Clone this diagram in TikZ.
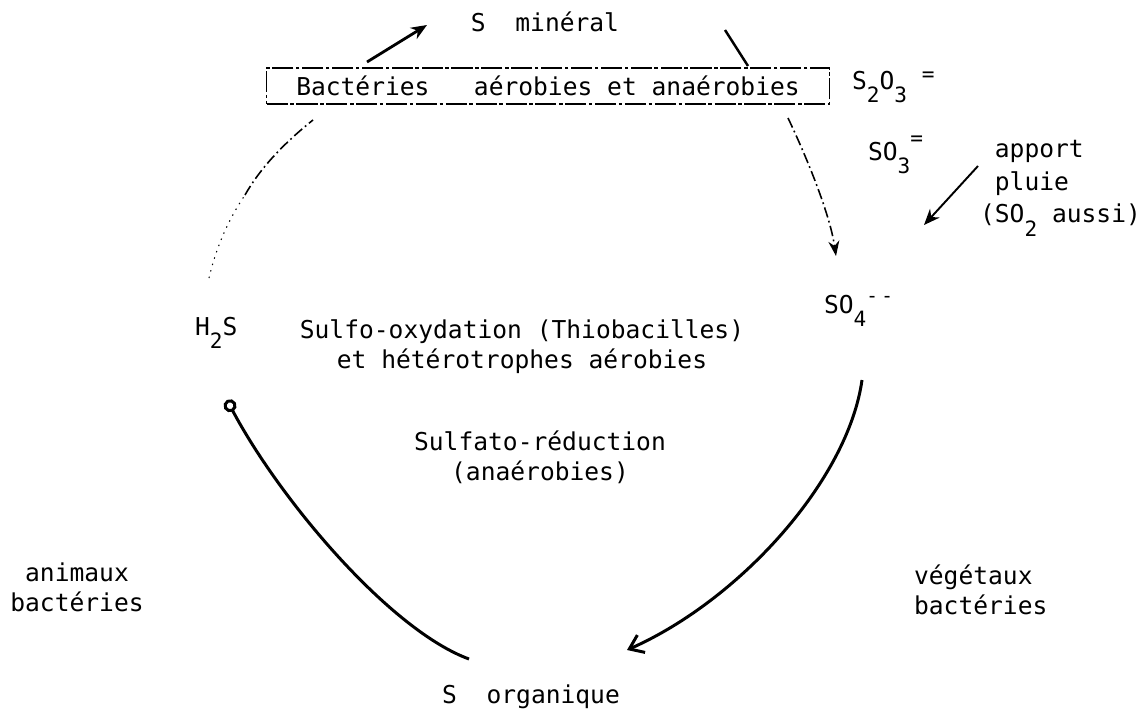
\documentclass[tikz,border=0pt]{standalone}
\usepackage{fontspec}
\setmainfont{DejaVu Sans Mono}
\usetikzlibrary{arrows.meta,positioning}
\newcommand{\lowr}[1]{\raisebox{-0.55em}{\fontsize{12}{12}\selectfont #1}}
\newcommand{\highr}[2][0.4em]{\raisebox{#1}{\fontsize{12}{12}\selectfont #2}}
\tikzset{
  txt/.style={font=\fontsize{14}{17}\selectfont,inner sep=1pt,align=center},
  ar/.style={-{Stealth[length=3.2mm,width=2.6mm]},line width=1.6pt},
  barb/.style={-{Straight Barb[length=2.6mm,width=3.8mm]},line width=1.7pt},
  cyc/.style={line width=1.7pt},
  dd/.style={line width=0.9pt,dash pattern=on 6pt off 2pt on 1pt off 2pt},
  dots/.style={line width=0.6pt,dash pattern=on 0.8pt off 3pt},
  boxd/.style={draw,line width=0.8pt,dash pattern=on 12pt off 1.5pt on 2pt off 1.5pt}
}

\begin{document}
\begin{tikzpicture}[x=0.02cm,y=-0.02cm]
\useasboundingbox (0,0) rectangle (1148,713);
% compounds
\node[txt] (smin) at (545,22) {S\ \ minéral};
\node[txt,boxd,minimum width=11.26cm,minimum height=0.72cm] (bact) at (548,86)
  {Bactéries\ \ \ aérobies et anaérobies};
\node[txt,anchor=west] (thio) at (850,87) {S\lowr{2}O\lowr{3}\ \highr[0.3em]{=}};
\node[txt,anchor=west] (so3) at (866,155) {SO\lowr{3}\highr[0.6em]{=}};
\node[txt,anchor=north west,align=left,font=\fontsize{14}{18.5}\selectfont] (pluie) at (978,137)
  {\phantom{(}apport\\\phantom{(}pluie\\(SO\lowr{2} aussi)};
\node[txt,anchor=west] (so4) at (822,311) {SO\lowr{4}\highr[0.45em]{\fontsize{11}{11}\selectfont-\,-}};
\node[txt,anchor=west] (h2s) at (193,333) {H\lowr{2}S};
\node[txt] (sorg) at (531,697) {S\ \ organique};
% processes
\node[txt] (sulfox) at (522,347) {Sulfo-oxydation (Thiobacilles)\\et hétérotrophes aérobies};
\node[txt] (sulfred) at (540,457) {Sulfato-réduction\\(anaérobies)};
\node[txt] (anim) at (77,587) {animaux\\bactéries};
\node[txt,anchor=west,align=left] (veg) at (912,590) {végétaux\\bactéries};
% connector ends
\coordinate (a1s) at (367,62);
\coordinate (a1e) at (427,25);
\coordinate (a2s) at (725,30);
\coordinate (a2e) at (748,66);
\coordinate (rs) at (788,118);
\coordinate (re) at (836,256);
\coordinate (ls) at (209,278);
\coordinate (lm) at (245,195);
\coordinate (le) at (313,120);
\coordinate (ps) at (978,166);
\coordinate (pe) at (924,225);
\coordinate (vs) at (862,380);
\coordinate (ve) at (627,650);
\coordinate (ws) at (469,659);
\coordinate (we) at (227,400);
% arrows
\draw[ar] (a1s) -- (a1e);
\draw[line width=1.4pt] (a2s) -- (a2e);
\draw[dd,-{Stealth[length=3mm,width=2.2mm]}] (rs) .. controls (808,160) and (830,215) .. (re);
\draw[dots] (ls) .. controls (216,248) and (228,220) .. (lm);
\draw[dd] (lm) .. controls (262,165) and (288,140) .. (le);
\draw[ar,line width=1.1pt] (ps) -- (pe);
\draw[cyc,barb] (vs) .. controls (848,480) and (740,600) .. (ve);
\draw[cyc,-{Circle[open,length=2.6mm]}] (ws) .. controls (390,630) and (280,500) .. (we);
\end{tikzpicture}
\end{document}
